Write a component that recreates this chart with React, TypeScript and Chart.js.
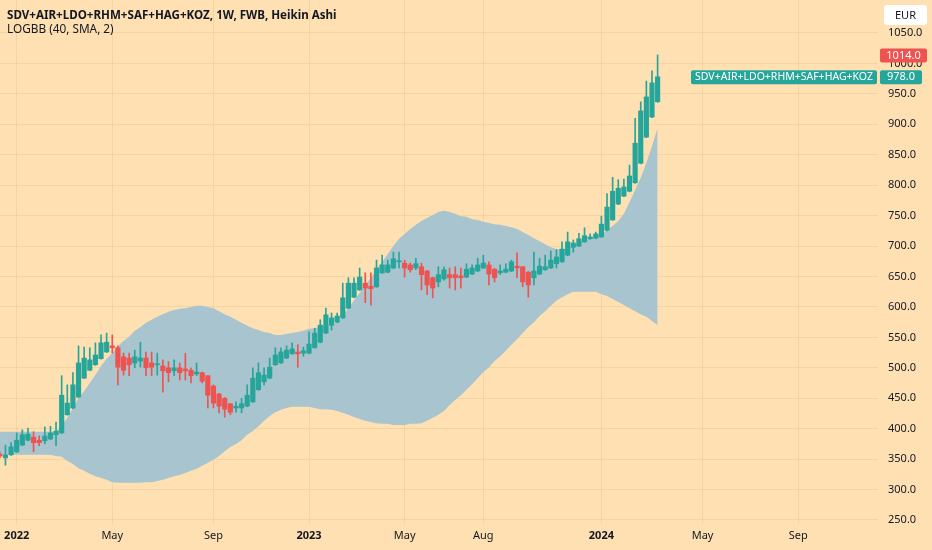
import React, { useEffect, useRef } from 'react';
import { Chart, registerables } from 'chart.js';

Chart.register(...registerables);

// Weekly Heikin Ashi bars; week index 0 = first bar of 2022 (3 Jan 2022)
const FIRST_WEEK = -3;

const opens = [
  358, 352, 357, 362, 373, 381, 386, 381, 380, 383, 390,
  393, 423, 434, 452, 483, 496, 505, 515, 526,
  536, 533, 518, 516, 508, 511, 516, 508, 505, 503,
  500, 495, 500, 498, 496, 490, 492, 487, 470, 457,
  450, 441, 434, 434, 437, 444, 464, 477, 483, 505,
  508, 516, 523, 526, 524, 524, 533, 542, 557, 570,
  575, 582, 598, 616, 628, 639, 634, 633, 656, 657,
  664, 674, 672, 669, 664, 666, 659, 648, 641, 646,
  653, 653, 651, 649, 654, 659, 664, 669, 662, 656,
  657, 659, 667, 666, 657, 648, 654, 661, 664, 671,
  674, 685, 698, 700, 707, 712, 713, 715, 726, 743,
  769, 782, 790, 804, 836, 879, 912, 937,
];
const highs = [
  362, 373, 377, 393, 398, 401, 395, 388, 403, 404, 411,
  487, 472, 492, 536, 534, 533, 541, 554, 557,
  554, 536, 524, 524, 529, 542, 526, 526, 524, 513,
  510, 513, 508, 524, 500, 508, 493, 487, 472, 458,
  451, 441, 444, 450, 472, 500, 508, 500, 516, 533,
  533, 536, 541, 538, 534, 559, 565, 579, 598, 590,
  590, 639, 648, 648, 664, 656, 656, 677, 685, 677,
  690, 690, 677, 672, 680, 672, 660, 649, 666, 666,
  664, 666, 664, 671, 669, 680, 685, 674, 663, 669,
  671, 677, 689, 666, 658, 690, 680, 685, 692, 694,
  707, 723, 710, 721, 730, 720, 723, 749, 786, 813,
  809, 810, 833, 910, 937, 971, 988, 1014,
];
const lows = [
  352, 340, 356, 361, 372, 380, 362, 372, 375, 382, 372,
  392, 422, 433, 451, 482, 495, 504, 514, 525,
  524, 472, 488, 487, 500, 501, 487, 487, 488, 460,
  477, 487, 480, 480, 475, 487, 475, 434, 434, 426,
  419, 423, 427, 426, 436, 443, 463, 472, 482, 504,
  507, 515, 522, 501, 519, 523, 532, 541, 556, 562,
  574, 581, 597, 615, 627, 607, 603, 632, 655, 656,
  663, 664, 649, 657, 661, 628, 620, 615, 633, 644,
  631, 628, 631, 648, 653, 658, 663, 636, 641, 653,
  656, 658, 648, 633, 616, 636, 653, 660, 663, 664,
  673, 684, 690, 699, 706, 711, 712, 714, 725, 742,
  768, 781, 789, 803, 835, 878, 911, 936,
];
const closes = [
  355, 357, 370, 381, 390, 391, 377, 377, 388, 393, 396,
  455, 442, 472, 508, 516, 513, 521, 541, 542,
  533, 501, 496, 505, 518, 516, 500, 501, 506, 495,
  492, 500, 492, 495, 487, 493, 478, 455, 442, 437,
  432, 427, 437, 441, 455, 483, 492, 488, 501, 521,
  526, 529, 531, 523, 528, 539, 557, 570, 587, 582,
  585, 615, 639, 639, 649, 631, 630, 664, 669, 669,
  679, 676, 664, 661, 671, 653, 636, 631, 653, 661,
  648, 648, 648, 662, 664, 669, 672, 654, 648, 659,
  662, 674, 664, 641, 636, 659, 667, 666, 677, 682,
  695, 707, 705, 712, 717, 715, 720, 736, 764, 790,
  795, 797, 815, 869, 922, 945, 968, 978,
];

// LOGBB (40, SMA, 2) upper / lower bands
const upperBand = [
  395, 395, 395, 395, 395, 395, 395, 395, 395, 395, 395,
  404, 418, 434, 450, 462, 475, 488, 503, 515,
  524, 536, 544, 551, 561, 567, 574, 579, 584, 588,
  592, 595, 597, 598, 600, 602, 602, 600, 598, 593,
  588, 584, 579, 574, 569, 565, 562, 559, 557, 554,
  554, 556, 557, 559, 561, 564, 565, 567, 569, 572,
  575, 585, 598, 611, 623, 636, 648, 661, 674, 687,
  700, 712, 720, 728, 735, 741, 746, 751, 756, 758,
  756, 753, 749, 748, 744, 743, 740, 738, 736, 735,
  733, 731, 728, 723, 718, 713, 708, 703, 698, 695,
  694, 697, 702, 707, 710, 713, 717, 720, 726, 733,
  741, 753, 772, 792, 812, 837, 864, 894,
];
const lowerBand = [
  357, 357, 357, 357, 357, 357, 357, 357, 357, 357,
  355, 354, 347, 342, 335, 331, 326, 322, 319, 316,
  312, 311, 311, 311, 311, 311, 312, 312, 314, 316,
  319, 322, 324, 327, 331, 334, 339, 344, 349, 355,
  363, 370, 375, 381, 390, 396, 404, 413, 421, 427,
  431, 434, 436, 436, 436, 436, 434, 432, 432, 431,
  429, 426, 423, 419, 416, 413, 411, 409, 408, 408,
  406, 406, 406, 408, 408, 409, 413, 418, 423, 429,
  439, 447, 455, 464, 473, 483, 493, 501, 511, 519,
  528, 538, 547, 557, 567, 575, 585, 593, 602, 610,
  616, 621, 625, 625, 625, 625, 625, 621, 618, 613,
  608, 603, 598, 593, 588, 584, 577, 570,
];

const xTickWeeks = [0, 17, 35, 52, 69, 83, 104, 122, 139];
const xTickLabels = ['2022', 'May', 'Sep', '2023', 'May', 'Aug', '2024', 'May', 'Sep'];
const yTickValues = [250, 300, 350, 400, 450, 500, 550, 600, 650, 700, 750, 800, 850, 900, 950, 1000, 1050];

const markerHigh = 1014.0;
const lastClose = 978.0;
const symbolName = 'SDV+AIR+LDO+RHM+SAF+HAG+KOZ';
const titleText = 'SDV+AIR+LDO+RHM+SAF+HAG+KOZ, 1W, FWB, Heikin Ashi';
const indicatorText = 'LOGBB (40, SMA, 2)';
const currency = 'EUR';

const X_MIN = -2.97;
const X_MAX = 153.2;
const Y_MIN = 243.4;
const Y_MAX = 1104.2;

const GREEN = '#26a69a';
const RED = '#ef5350';
const BG = '#fee0b2';
const BAND = '#a8c4cf';
const GRID = 'rgba(190,130,50,0.13)';
const TEXT = '#131722';
const FONT = "'Noto Sans', sans-serif";

const weeks = opens.map((_, i) => FIRST_WEEK + i);

function roundRect(ctx: CanvasRenderingContext2D, x: number, y: number, w: number, h: number, r: number) {
  ctx.beginPath();
  ctx.moveTo(x + r, y);
  ctx.lineTo(x + w - r, y);
  ctx.quadraticCurveTo(x + w, y, x + w, y + r);
  ctx.lineTo(x + w, y + h - r);
  ctx.quadraticCurveTo(x + w, y + h, x + w - r, y + h);
  ctx.lineTo(x + r, y + h);
  ctx.quadraticCurveTo(x, y + h, x, y + h - r);
  ctx.lineTo(x, y + r);
  ctx.quadraticCurveTo(x, y, x + r, y);
  ctx.closePath();
}

const priceLabelPlugin = {
  id: 'priceLabels',
  afterDraw(chart: any) {
    const ctx: CanvasRenderingContext2D = chart.ctx;
    const yScale = chart.scales.y;
    const right = chart.chartArea.right;
    const W = chart.width;
    ctx.save();
    ctx.textBaseline = 'middle';
    ctx.textAlign = 'center';

    // currency box
    ctx.fillStyle = '#ffffff';
    roundRect(ctx, right + 6, 5, W - right - 11, 20, 3);
    ctx.fill();
    ctx.fillStyle = TEXT;
    ctx.font = `11px ${FONT}`;
    ctx.fillText(currency, right + 6 + (W - right - 11) / 2, 15.5);

    // high marker label
    const yh = yScale.getPixelForValue(markerHigh);
    ctx.fillStyle = RED;
    roundRect(ctx, right + 2, yh - 6.5, 47, 14, 2);
    ctx.fill();
    ctx.fillStyle = '#ffffff';
    ctx.font = `11px ${FONT}`;
    ctx.fillText(markerHigh.toFixed(1), right + 2 + 23.5, yh + 0.5);

    // last price label
    const yc = yScale.getPixelForValue(lastClose);
    ctx.fillStyle = GREEN;
    roundRect(ctx, right + 2, yc - 6.5, 42, 14, 2);
    ctx.fill();
    ctx.fillStyle = '#ffffff';
    ctx.fillText(lastClose.toFixed(1), right + 2 + 21, yc + 0.5);

    // symbol name label
    let size = 11;
    ctx.font = `${size}px ${FONT}`;
    while (ctx.measureText(symbolName).width > 178 && size > 8) {
      size -= 0.25;
      ctx.font = `${size}px ${FONT}`;
    }
    const boxW = 186;
    ctx.fillStyle = GREEN;
    roundRect(ctx, right - boxW - 1, yc - 6.5, boxW, 14, 2);
    ctx.fill();
    ctx.fillStyle = '#ffffff';
    ctx.fillText(symbolName, right - 1 - boxW / 2, yc + 0.5);
    ctx.restore();
  },
};

export default function App() {
  const canvasRef = useRef<HTMLCanvasElement | null>(null);

  useEffect(() => {
    document.body.style.margin = '0';
    const canvas = canvasRef.current;
    if (!canvas) return;

    const isUp = (i: number) => closes[i] >= opens[i];
    const candleColor = (c: any) => (isUp(c.dataIndex) ? GREEN : RED);

    const chart = new Chart(canvas, {
      type: 'bar',
      data: {
        datasets: [
          {
            type: 'line',
            label: 'upper',
            data: weeks.map((w, i) => ({ x: w, y: upperBand[i] })),
            borderColor: 'rgba(0,0,0,0)',
            borderWidth: 0,
            pointRadius: 0,
            fill: '+1',
            backgroundColor: BAND,
            order: 3,
          } as any,
          {
            type: 'line',
            label: 'lower',
            data: weeks.map((w, i) => ({ x: w, y: lowerBand[i] })),
            borderColor: 'rgba(0,0,0,0)',
            borderWidth: 0,
            pointRadius: 0,
            fill: false,
            order: 3,
          } as any,
          {
            type: 'bar',
            label: 'wicks',
            data: weeks.map((w, i) => ({ x: w, y: [lows[i], highs[i]] })),
            backgroundColor: candleColor,
            borderWidth: 0,
            barThickness: 1,
            grouped: false,
            order: 2,
          } as any,
          {
            type: 'bar',
            label: 'bodies',
            data: weeks.map((w, i) => ({ x: w, y: [opens[i], closes[i]] })),
            backgroundColor: candleColor,
            borderWidth: 0,
            barThickness: 4.5,
            grouped: false,
            minBarLength: 1,
            order: 1,
          } as any,
        ],
      },
      options: {
        animation: false,
        responsive: true,
        maintainAspectRatio: false,
        layout: { padding: 0 },
        plugins: {
          legend: { display: false },
          tooltip: { enabled: false },
          filler: { propagate: false },
        },
        scales: {
          x: {
            type: 'linear',
            min: X_MIN,
            max: X_MAX,
            offset: false,
            afterBuildTicks: (scale: any) => {
              scale.ticks = xTickWeeks.map((v) => ({ value: v }));
            },
            afterFit: (scale: any) => {
              scale.height = 26;
              scale.paddingLeft = 0;
              scale.paddingRight = 0;
            },
            grid: { color: GRID, drawTicks: false, offset: false },
            border: { display: false },
            ticks: {
              padding: 5,
              maxRotation: 0,
              autoSkip: false,
              color: TEXT,
              callback: (v: any) => {
                const k = xTickWeeks.indexOf(Number(v));
                return k >= 0 ? xTickLabels[k] : '';
              },
              font: (c: any) => {
                const k = c.tick ? xTickWeeks.indexOf(c.tick.value) : -1;
                const isYear = k >= 0 && /^\d{4}$/.test(xTickLabels[k]);
                return { family: FONT, size: 11, weight: isYear ? 'bold' : 'normal' };
              },
            },
          } as any,
          y: {
            type: 'linear',
            position: 'right',
            min: Y_MIN,
            max: Y_MAX,
            afterBuildTicks: (scale: any) => {
              scale.ticks = yTickValues.map((v) => ({ value: v }));
            },
            afterFit: (scale: any) => {
              scale.width = 54;
              scale.paddingTop = 0;
              scale.paddingBottom = 0;
            },
            grid: { color: GRID, drawTicks: false },
            border: { display: false },
            ticks: {
              padding: 10,
              color: TEXT,
              font: { family: FONT, size: 11 },
              callback: (v: any) => Number(v).toFixed(1),
            },
          } as any,
        },
      },
      plugins: [priceLabelPlugin],
    });

    return () => chart.destroy();
  }, []);

  return (
    <div style={{ position: 'relative', width: 932, height: 550, background: BG, overflow: 'hidden' }}>
      <canvas ref={canvasRef} style={{ position: 'absolute', left: 0, top: 0 }} />
      <div
        style={{
          position: 'absolute',
          left: 7,
          top: 6,
          font: `bold 11.6px ${FONT}`,
          lineHeight: '17px',
          color: TEXT,
          whiteSpace: 'nowrap',
        }}
      >
        {titleText}
      </div>
      <div
        style={{
          position: 'absolute',
          left: 7,
          top: 20,
          font: `11.8px ${FONT}`,
          lineHeight: '17px',
          color: TEXT,
          whiteSpace: 'nowrap',
        }}
      >
        {indicatorText}
      </div>
    </div>
  );
}
